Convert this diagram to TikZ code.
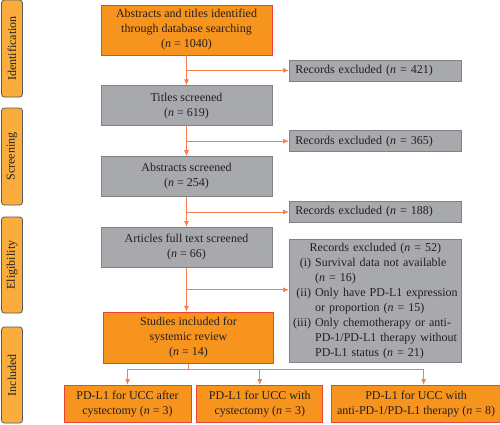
\documentclass[tikz,border=0pt]{standalone}
\usepackage{fontspec}
\setmainfont{Liberation Serif}
\usetikzlibrary{
  positioning,
  calc,
  arrows.meta}
\definecolor{mainorange}{RGB}{247,148,30}
\definecolor{mainborder}{RGB}{239,65,54}
\definecolor{sideorange}{RGB}{250,173,60}
\definecolor{sideborder}{RGB}{88,89,91}
\definecolor{boxgray}{RGB}{167,169,172}
\definecolor{grayborder}{RGB}{128,130,133}
\definecolor{arrowcolor}{RGB}{245,128,80}
\definecolor{textcolor}{RGB}{35,31,32}
\tikzset{
  flow_arrow/.style={-{Latex[length=6pt,width=5pt]}, draw=arrowcolor, line width=0.8pt}
}
\tikzset{
  %% mainbox : records that go on to the next stage
  mainbox/.style={
    rectangle,
    fill=mainorange,
    draw=mainborder,
    line width=0.8pt,
    minimum width=171pt,
    minimum height=50pt,
    align=center
  },
  %% graybox : a screening stage
  graybox/.style={
    rectangle,
    fill=boxgray,
    draw=grayborder,
    line width=0.8pt,
    minimum width=171pt,
    minimum height=40pt,
    align=center
  },
  %% excluded : records excluded at a stage
  excluded/.style={
    rectangle,
    fill=boxgray,
    draw=grayborder,
    line width=0.8pt,
    text width=160pt,
    inner xsep=6pt,
    inner ysep=1pt,
    minimum height=21pt,
    align=left
  },
  %% sidebox : the phase label on the left
  sidebox/.style={
    rectangle,
    rounded corners=3pt,
    fill=sideorange,
    draw=sideborder,
    line width=0.8pt,
    rotate=90,
    minimum width=96pt,
    minimum height=21pt,
    inner sep=1pt,
    align=center
  }
}

\begin{document}
\begin{tikzpicture}
  [x=1pt,
  y=-1pt,
  align=center,
  text=textcolor,
  font=\fontsize{12}{15}\selectfont]

  \useasboundingbox (0, 0) rectangle (500, 424);

  %% Phase labels
  \node (sideident) [sidebox, minimum width=97pt] at (12, 48.5) {Identification};
  \node (sidescreen) [sidebox, minimum width=97pt] at (12, 156.5) {Screening};
  \node (sideelig) [sidebox] at (12, 265) {Eligibility};
  \node (sideincl) [sidebox] at (12, 375) {Included};

  %% Main flow
  \node (ident) [mainbox] at (186.5, 30){%
    Abstracts and titles identified\\through database searching\\(\textit{n} = 1040)
  };

  \node (titles) [below=30pt of ident, graybox]{%
    Titles screened\\(\textit{n} = 619)
  };

  \node (abstracts) [below=30pt of titles, graybox]{%
    Abstracts screened\\(\textit{n} = 254)
  };

  \node (articles) [below=30pt of abstracts, graybox]{%
    Articles full text screened\\(\textit{n} = 66)
  };

  \node (studies) [below=44pt of articles, xshift=2pt, mainbox, minimum width=170pt, minimum height=51pt]{%
    Studies included for\\systemic review\\(\textit{n} = 14)
  };

  %% Split points on the main line
  \coordinate (split1) at ($(ident.south)!0.5!(titles.north)$);
  \coordinate (split2) at ($(titles.south)!0.5!(abstracts.north)$);
  \coordinate (split3) at ($(abstracts.south)!0.5!(articles.north)$);
  \coordinate (split4) at ($(articles.south)!0.5!(studies.north -| articles.south)$);
  \coordinate (split5) at ($(studies.south) + (0, 6)$);

  %% Exclusions
  \node (excl1) [right=102.5pt of split1, excluded]{%
    Records excluded (\textit{n} = 421)
  };

  \node (excl2) [right=102.5pt of split2, excluded]{%
    Records excluded (\textit{n} = 365)
  };

  \node (excl3) [right=102.5pt of split3, excluded]{%
    Records excluded (\textit{n} = 188)
  };

  \node (excl4) [right=102.5pt of split4, yshift=-11.5pt, excluded, text width=168pt, inner xsep=2pt, align=center, minimum height=123pt]{%
    \begin{tabular}{@{}r@{\ }l@{}}
      \multicolumn{2}{c}{Records excluded (\textit{n} = 52)}\\
      (i) & Survival data not available\\
          & (\textit{n} = 16)\\
      (ii) & Only have PD-L1 expression\\
           & or proportion (\textit{n} = 15)\\
      (iii) & Only chemotherapy or anti-\\
            & PD-1/PD-L1 therapy without\\
            & PD-L1 status (\textit{n} = 21)
    \end{tabular}
  };

  %% Included groups
  \node (group1) [mainbox, anchor=north, minimum width=127pt, minimum height=37pt] at (127.5, 385){%
    PD-L1 for UCC after\\cystectomy (\textit{n} = 3)
  };

  \node (group2) [right=5pt of group1, mainbox, minimum width=126pt, minimum height=37pt]{%
    PD-L1 for UCC with\\cystectomy (\textit{n} = 3)
  };

  \node (group3) [right=8pt of group2, mainbox, minimum width=169pt, minimum height=37pt]{%
    PD-L1 for UCC with\\anti-PD-1/PD-L1 therapy (\textit{n} = 8)
  };

  %% Connections
  \draw [flow_arrow] (ident) -- (titles);
  \draw [flow_arrow] (titles) -- (abstracts);
  \draw [flow_arrow] (abstracts) -- (articles);
  \draw [flow_arrow] (articles.south) -- (articles.south |- studies.north);

  \draw [flow_arrow] (split1) -- (excl1);
  \draw [flow_arrow] (split2) -- (excl2);
  \draw [flow_arrow] (split3) -- (excl3);
  \draw [flow_arrow] (split4) -- (split4 -| excl4.west);

  \draw [draw=arrowcolor, line width=0.8pt] (studies.south) -- (split5);
  \draw [flow_arrow] (split5) -| (group1.north);
  \draw [flow_arrow] (split5 -| group2.north) -- (group2.north);
  \draw [flow_arrow] (split5) -| ([xshift=7.5pt]group3.north);

\end{tikzpicture}
\end{document}
